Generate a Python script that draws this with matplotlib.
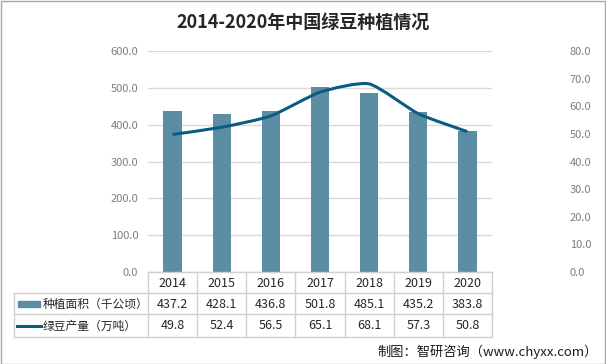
import numpy as np
import matplotlib.pyplot as plt
from matplotlib.path import Path
from matplotlib.patches import PathPatch, Rectangle
from matplotlib.lines import Line2D

plt.rcParams['font.family'] = ['Noto Sans CJK SC', 'DejaVu Sans']

years = ['2014', '2015', '2016', '2017', '2018', '2019', '2020']
area = [437.2, 428.1, 436.8, 501.8, 485.1, 435.2, 383.8]
output = [49.8, 52.4, 56.5, 65.1, 68.1, 57.3, 50.8]
area_name = '种植面积（千公顷）'
output_name = '绿豆产量（万吨）'

bar_color = '#5b8ea5'
line_color = '#0a5d80'
tick_color = '#7f7f7f'
grid_color = '#d9d9d9'

fig = plt.figure(figsize=(6.06, 3.64), dpi=100)
W, H = 606, 364
ax = fig.add_axes([148 / W, 1 - 272 / H, 344 / W, 221 / H])
ax2 = ax.twinx()

x = np.arange(len(years))
ax.bar(x, area, width=0.37, color=bar_color, zorder=2)
ax.set_ylim(0, 600)
ax.set_xlim(-0.5, len(years) - 0.5)
ax.set_yticks(np.arange(0, 601, 100))
ax.set_yticklabels([f'{v:.1f}' for v in np.arange(0, 601, 100)])
ax.yaxis.grid(True, color=grid_color, lw=1, zorder=0)
ax.set_axisbelow(True)
ax.set_xticks([])
ax.tick_params(axis='y', length=0, pad=7, labelsize=8, labelcolor=tick_color)

# slightly smoothed line through the data points
pts = np.column_stack([x, output]).astype(float)
verts = [tuple(pts[0])]
codes = [Path.MOVETO]
k = 10
for i in range(len(pts) - 1):
    p0 = pts[i - 1] if i > 0 else pts[i]
    p1, p2 = pts[i], pts[i + 1]
    p3 = pts[i + 2] if i + 2 < len(pts) else pts[i + 1]
    c1 = p1 + (p2 - p0) / k
    c2 = p2 - (p3 - p1) / k
    verts += [tuple(c1), tuple(c2), tuple(p2)]
    codes += [Path.CURVE4] * 3
ax2.add_patch(PathPatch(Path(verts, codes), fill=False, ec=line_color, lw=2.2, zorder=3))
ax2.set_ylim(0, 80)
ax2.set_yticks(np.arange(0, 81, 10))
ax2.set_yticklabels([f'{v:.1f}' for v in np.arange(0, 81, 10)])
ax2.tick_params(axis='y', length=0, pad=56, labelsize=8, labelcolor=tick_color)

for a in (ax, ax2):
    for s in a.spines.values():
        s.set_visible(False)

# data table below the plot
tr = ax.get_xaxis_transform()
tc = '#d0d0d0'
row_y = [-0.05, -0.145, -0.244]
line_y = [-0.095, -0.19, -0.294]
left = (14 - 148) / 344
ax.plot([-0.5, 6.5], [0, 0], transform=tr, color=tc, lw=1, clip_on=False)
for yy in line_y:
    ax.plot([left, 1], [yy, yy], transform=ax.transAxes, color=tc, lw=1, clip_on=False)
for b in np.arange(-0.5, 7, 1):
    ax.plot([b, b], [0, line_y[-1]], transform=tr, color=tc, lw=1, clip_on=False)
ax.plot([left, left], [line_y[0], line_y[-1]], transform=ax.transAxes, color=tc, lw=1, clip_on=False)

for i in range(len(years)):
    ax.text(x[i], row_y[0], years[i], transform=tr, ha='center', va='center', fontsize=9, color='#262626')
    ax.text(x[i], row_y[1], f'{area[i]:.1f}', transform=tr, ha='center', va='center', fontsize=9, color='#262626')
    ax.text(x[i], row_y[2], f'{output[i]:.1f}', transform=tr, ha='center', va='center', fontsize=9, color='#262626')

fig.patches.append(Rectangle((18 / W, 1 - 307 / H), 22 / W, 6 / H, transform=fig.transFigure, color=bar_color))
fig.lines.append(Line2D([17 / W, 41 / W], [1 - 326 / H, 1 - 326 / H], transform=fig.transFigure, color=line_color, lw=2.2))
fig.text(43 / W, 1 - 304 / H, area_name, ha='left', va='center', fontsize=8.5, color='#262626')
fig.text(43 / W, 1 - 326 / H, output_name, ha='left', va='center', fontsize=8.5, color='#262626')

fig.text(0.5, 1 - 22 / H, '2014-2020年中国绿豆种植情况', ha='center', va='center',
         fontsize=13, fontweight='bold', color='#262626')
fig.text(598 / W, 1 - 352 / H, '制图：智研咨询（www.chyxx.com）', ha='right', va='center',
         fontsize=9.5, color='#1a1a1a')

fig.patches.append(Rectangle((0.5 / W, 0.5 / H), 1 - 1.5 / W, 1 - 1.5 / H, transform=fig.transFigure,
                             fill=False, ec='#a6a6a6', lw=1))

fig.savefig('out.png', dpi=100)
